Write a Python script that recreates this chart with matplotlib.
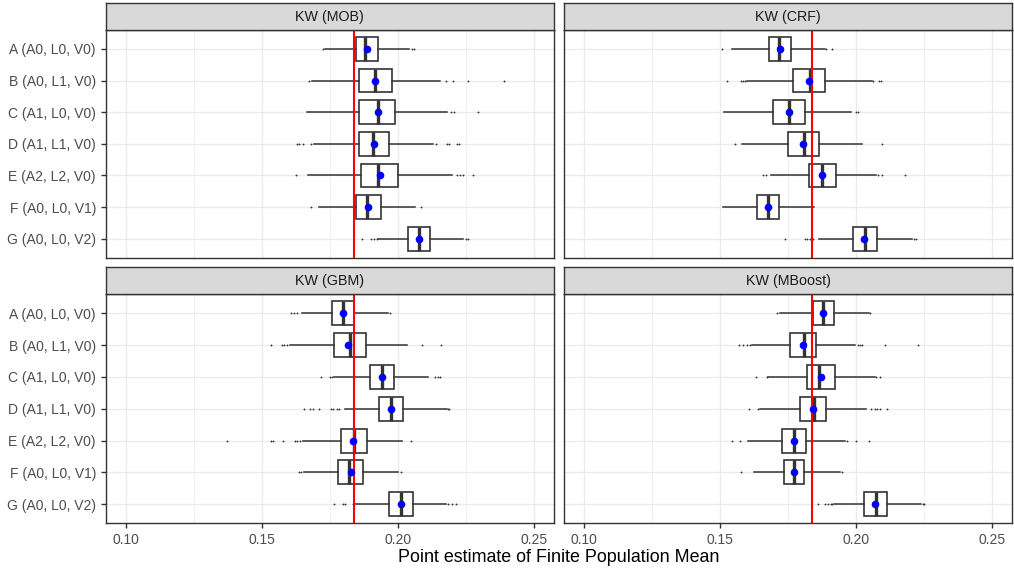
import matplotlib.pyplot as plt
import numpy as np

plt.rcParams['font.family'] = ['Liberation Sans', 'DejaVu Sans']

categories = ["A (A0, L0, V0)", "B (A0, L1, V0)", "C (A1, L0, V0)", "D (A1, L1, V0)",
              "E (A2, L2, V0)", "F (A0, L0, V1)", "G (A0, L0, V2)"]
panels = ["KW (MOB)", "KW (CRF)", "KW (GBM)", "KW (MBoost)"]
true_mean = 0.1839

# whislo, q1, median, q3, whishi, mean  (one row per category)
mob_stats = [
    (0.1733, 0.1847, 0.1881, 0.1926, 0.2042, 0.1887),
    (0.1683, 0.1857, 0.1917, 0.1980, 0.2155, 0.1917),
    (0.1667, 0.1856, 0.1928, 0.1991, 0.2180, 0.1928),
    (0.1693, 0.1858, 0.1910, 0.1969, 0.2128, 0.1914),
    (0.1671, 0.1863, 0.1928, 0.2000, 0.2198, 0.1935),
    (0.1711, 0.1846, 0.1888, 0.1938, 0.2063, 0.1892),
    (0.1928, 0.2036, 0.2079, 0.2119, 0.2241, 0.2078),
]
mob_fliers = [
    [0.1724, 0.2051, 0.2060],
    [0.1673, 0.2177, 0.2204, 0.2258, 0.2392],
    [0.2196, 0.2208, 0.2296],
    [0.1628, 0.1638, 0.1652, 0.1680, 0.2141, 0.2183, 0.2189, 0.2217, 0.2225],
    [0.1625, 0.2217, 0.2229, 0.2241, 0.2276],
    [0.1681, 0.2084],
    [0.1867, 0.1900, 0.1912, 0.1922, 0.2251, 0.2258],
]

crf_stats = [
    (0.1542, 0.1678, 0.1718, 0.1761, 0.1887, 0.1720),
    (0.1597, 0.1768, 0.1832, 0.1885, 0.2057, 0.1825),
    (0.1515, 0.1695, 0.1752, 0.1813, 0.1982, 0.1753),
    (0.1580, 0.1748, 0.1807, 0.1865, 0.2020, 0.1806),
    (0.1686, 0.1825, 0.1875, 0.1926, 0.2075, 0.1875),
    (0.1511, 0.1634, 0.1675, 0.1717, 0.1846, 0.1677),
    (0.1862, 0.1989, 0.2033, 0.2077, 0.2204, 0.2031),
]
crf_fliers = [
    [0.1505, 0.1891, 0.1913],
    [0.1526, 0.1575, 0.1585, 0.1592, 0.2063, 0.2085, 0.2092],
    [0.1999, 0.2007],
    [0.1553, 0.2096],
    [0.1656, 0.1668, 0.2081, 0.2094, 0.2179],
    [],
    [0.1738, 0.1812, 0.1820, 0.1830, 0.1840, 0.2212, 0.2222],
]

gbm_stats = [
    (0.1646, 0.1757, 0.1800, 0.1840, 0.1965, 0.1800),
    (0.1603, 0.1764, 0.1823, 0.1884, 0.2033, 0.1818),
    (0.1766, 0.1897, 0.1941, 0.1985, 0.2112, 0.1941),
    (0.1806, 0.1931, 0.1975, 0.2020, 0.2180, 0.1974),
    (0.1650, 0.1791, 0.1840, 0.1886, 0.2014, 0.1834),
    (0.1655, 0.1781, 0.1822, 0.1871, 0.2002, 0.1827),
    (0.1843, 0.1966, 0.2012, 0.2055, 0.2177, 0.2011),
]
gbm_fliers = [
    [0.1607, 0.1619, 0.1628, 0.1971],
    [0.1532, 0.1573, 0.1582, 0.1591, 0.2088, 0.2158],
    [0.1716, 0.1751, 0.1759, 0.2137, 0.2149, 0.2155],
    [0.1655, 0.1677, 0.1687, 0.1710, 0.1754, 0.1763, 0.1775, 0.1785, 0.2186, 0.2189],
    [0.1371, 0.1532, 0.1540, 0.1576, 0.1623, 0.1630, 0.1640, 0.2048],
    [0.1635, 0.1644, 0.2012],
    [0.1765, 0.1797, 0.1807, 0.1834, 0.2186, 0.2198, 0.2213],
]

mboost_stats = [
    (0.1719, 0.1842, 0.1879, 0.1918, 0.2048, 0.1879),
    (0.1618, 0.1757, 0.1807, 0.1853, 0.1995, 0.1806),
    (0.1676, 0.1821, 0.1865, 0.1921, 0.2068, 0.1870),
    (0.1646, 0.1793, 0.1846, 0.1891, 0.2038, 0.1843),
    (0.1603, 0.1729, 0.1773, 0.1816, 0.1958, 0.1773),
    (0.1625, 0.1733, 0.1772, 0.1808, 0.1940, 0.1771),
    (0.1919, 0.2031, 0.2072, 0.2115, 0.2240, 0.2071),
]
mboost_fliers = [
    [0.1710, 0.2053],
    [0.1570, 0.1585, 0.1597, 0.1609, 0.2007, 0.2014, 0.2020, 0.2106, 0.2229],
    [0.1631, 0.1671, 0.2075, 0.2087],
    [0.1607, 0.1640, 0.2054, 0.2069, 0.2078, 0.2087, 0.2114],
    [0.1544, 0.1572, 0.1965, 0.1999, 0.2046],
    [0.1577, 0.1950],
    [0.1860, 0.1885, 0.1895, 0.1906, 0.1913, 0.2246, 0.2251],
]

all_stats = [mob_stats, crf_stats, gbm_stats, mboost_stats]
all_fliers = [mob_fliers, crf_fliers, gbm_fliers, mboost_fliers]

W, H = 1014, 568
fig = plt.figure(figsize=(W / 100, H / 100), dpi=100)

edge = '#333333'
# panel boxes in pixels: left, top, right, bottom
pos = [(105.7, 30, 554, 257.7), (564, 30, 1012.3, 257.7),
       (105.7, 294.3, 554, 523.3), (564, 294.3, 1012.3, 523.3)]
strip_h = 27

for k in range(4):
    l, t, r, b = pos[k]
    ax = fig.add_axes([l / W, 1 - b / H, (r - l) / W, (b - t) / H])
    sax = fig.add_axes([l / W, 1 - t / H, (r - l) / W, strip_h / H])
    sax.set_facecolor('#D9D9D9')
    sax.set_xticks([])
    sax.set_yticks([])
    for s in sax.spines.values():
        s.set_color(edge)
        s.set_linewidth(1.0)
    sax.text(0.5, 0.5, panels[k], ha='center', va='center', fontsize=10.3, color='#1A1A1A',
             transform=sax.transAxes)

    stats = []
    for i, row in enumerate(all_stats[k]):
        stats.append(dict(whislo=row[0], q1=row[1], med=row[2], q3=row[3], whishi=row[4],
                          mean=row[5], fliers=all_fliers[k][i]))
    ypos = np.arange(1, len(categories) + 1)
    ax.bxp(stats, positions=ypos, widths=0.75, orientation='horizontal', patch_artist=True,
           showcaps=False, showmeans=False,
           boxprops=dict(facecolor='white', edgecolor=edge, linewidth=1.2),
           whiskerprops=dict(color=edge, linewidth=1.1),
           medianprops=dict(color=edge, linewidth=2.4),
           flierprops=dict(marker='o', markersize=0.9, markerfacecolor=edge,
                           markeredgecolor=edge, markeredgewidth=0.4, linestyle='none'))
    ax.axvline(true_mean, color='red', linewidth=1.5, zorder=3)
    means = [row[5] for row in all_stats[k]]
    ax.plot(means, ypos, 'o', color='blue', markersize=4.5, zorder=4)

    ax.set_xlim(0.0925, 0.2575)
    ax.set_ylim(7.6, 0.4)
    ax.set_xticks([0.10, 0.15, 0.20, 0.25])
    ax.set_xticks([0.125, 0.175, 0.225], minor=True)
    ax.set_yticks(ypos)
    ax.grid(which='major', color='#EBEBEB', linewidth=1.0)
    ax.grid(which='minor', axis='x', color='#EBEBEB', linewidth=0.5)
    ax.set_axisbelow(True)
    for s in ax.spines.values():
        s.set_color(edge)
        s.set_linewidth(1.0)
    ax.tick_params(which='minor', length=0)
    ax.tick_params(which='major', length=3.5, width=1.0, color=edge, labelcolor='#4D4D4D',
                   labelsize=10)
    if k < 2:
        ax.tick_params(axis='x', length=0, labelbottom=False)
    else:
        ax.set_xticklabels(['0.10', '0.15', '0.20', '0.25'])
    if k % 2 == 0:
        ax.set_yticklabels(categories)
    else:
        ax.tick_params(axis='y', length=0, labelleft=False)

fig.text(559 / W, 1 - 557 / H, "Point estimate of Finite Population Mean", ha='center',
         va='center', fontsize=12.9, color='black')

fig.savefig('out.png', dpi=100)
